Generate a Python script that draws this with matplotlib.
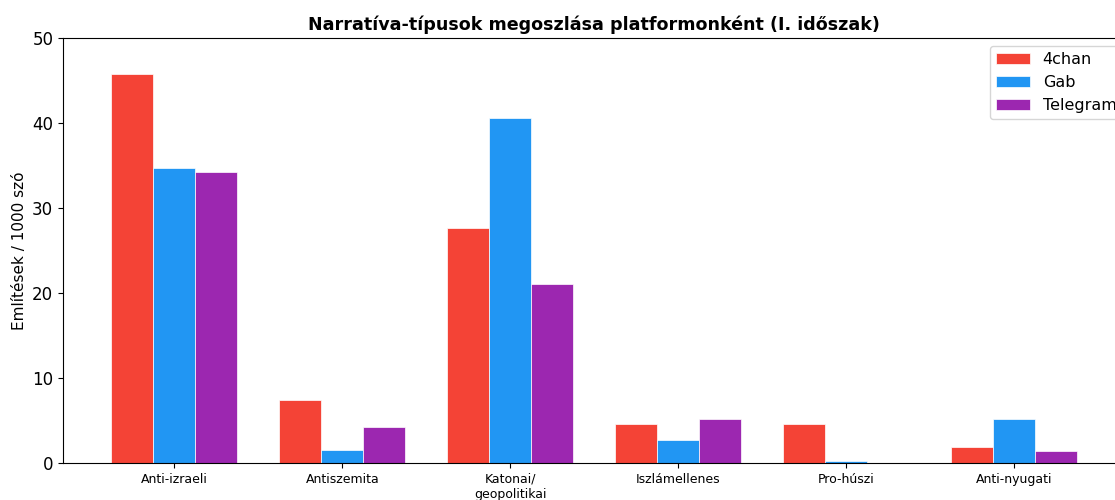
import numpy as np
import matplotlib.pyplot as plt

# Narrative types per platform, mentions per 1000 words (period I)
categories = ['Anti-izraeli', 'Antiszemita', 'Katonai/\ngeopolitikai',
              'Iszlámellenes', 'Pro-húszi', 'Anti-nyugati']
platforms = ['4chan', 'Gab', 'Telegram']
chan4 = [45.8, 7.4, 27.6, 4.6, 4.6, 1.9]
gab = [34.7, 1.5, 40.6, 2.7, 0.25, 5.2]
telegram = [34.2, 4.2, 21.1, 5.2, 0.0, 1.4]
colors = ['#F44336', '#2196F3', '#9C27B0']

fig = plt.figure(figsize=(11.15, 5.0), dpi=100)
ax = fig.add_axes([0.0565, 0.074, 0.953, 0.85])

x = np.arange(len(categories))
width = 0.25
for i, (vals, name) in enumerate(zip([chan4, gab, telegram], platforms)):
    ax.bar(x + (i - 1) * width, vals, width, label=name, color=colors[i],
           edgecolor='white', linewidth=0.5)

ax.set_xticks(x)
ax.set_xticklabels(categories, fontsize=9)
ax.tick_params(axis='y', labelsize=12)
ax.set_ylim(0, 50)
ax.set_ylabel('Említések / 1000 szó', fontsize=11)
ax.set_title('Narratíva-típusok megoszlása platformonként (I. időszak)',
             fontsize=12.6, fontweight='bold')
ax.legend(loc='upper right', fontsize=11.5, labelspacing=0.48,
          handlelength=2.1, bbox_to_anchor=(1.005, 1.0))

fig.savefig('out.png', dpi=100)
